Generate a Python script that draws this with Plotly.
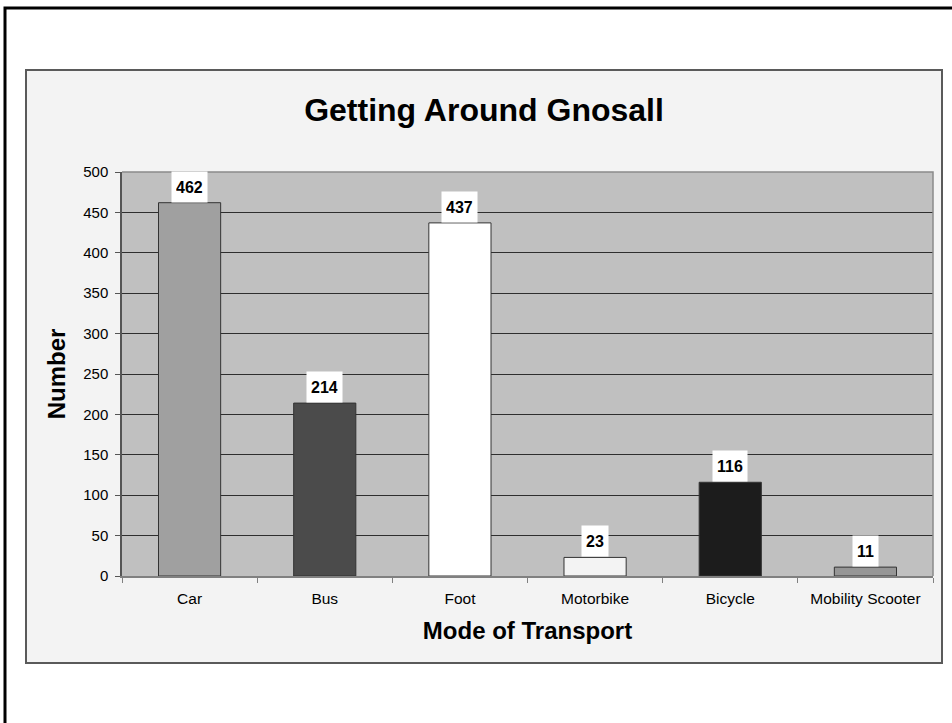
import plotly.graph_objects as go

categories = ["Car", "Bus", "Foot", "Motorbike", "Bicycle", "Mobility Scooter"]
values = [462, 214, 437, 23, 116, 11]
bar_colors = ["#a0a0a0", "#4b4b4b", "#ffffff", "#f3f3f3", "#1c1c1c", "#969696"]
y_ticks = [0, 50, 100, 150, 200, 250, 300, 350, 400, 450, 500]

W, H = 952, 723
ML, MR, MT, MB = 122, 19, 172, 147
PW = W - ML - MR
PH = H - MT - MB
FONT = "Liberation Sans, Arial, sans-serif"


def px_x(px):
    return (px - ML) / PW


def px_y(py):
    return (H - MB - py) / PH


fig = go.Figure()
fig.add_trace(go.Bar(
    x=categories, y=values,
    marker=dict(color=bar_colors, line=dict(color="#333333", width=1)),
    hoverinfo="x+y",
))

annotations = []
for c, v in zip(categories, values):
    annotations.append(dict(
        x=c, y=v, xref="x", yref="y", text=f"<b>{v}</b>", showarrow=False,
        yanchor="bottom", xanchor="center", bgcolor="#ffffff",
        borderpad=4, height=22,
        font=dict(family=FONT, size=16, color="#000000"),
    ))

shapes = [
    # outer frame
    dict(type="rect", xref="paper", yref="paper", layer="below",
         x0=px_x(5), x1=px_x(962), y0=px_y(735), y1=px_y(8),
         line=dict(color="#000000", width=3), fillcolor="#ffffff"),
    # chart area
    dict(type="rect", xref="paper", yref="paper", layer="below",
         x0=px_x(26), x1=px_x(942), y0=px_y(663), y1=px_y(70),
         line=dict(color="#5a5a5a", width=2), fillcolor="#f3f3f3"),
    # plot area background
    dict(type="rect", xref="paper", yref="paper", layer="below",
         x0=0, x1=1, y0=0, y1=1, line=dict(width=0), fillcolor="#c0c0c0"),
    # plot area top/right border
    dict(type="path", xref="paper", yref="paper", layer="above",
         path="M 0,1 L 1,1 L 1,0", line=dict(color="#8a8a8a", width=1.5)),
]

fig.update_layout(
    width=W, height=H, autosize=False,
    margin=dict(l=ML, r=MR, t=MT, b=MB, pad=0),
    paper_bgcolor="#ffffff", plot_bgcolor="#c0c0c0",
    showlegend=False,
    bargap=0.54,
    font=dict(family=FONT, color="#000000"),
    title=dict(text="Getting Around Gnosall", xref="container", yref="container",
               x=484 / W, y=1 - 110 / H, xanchor="center", yanchor="middle",
               font=dict(family=FONT, size=32, color="#000000", weight="bold")),
    xaxis=dict(
        showline=True, linecolor="#808080", linewidth=1.5,
        ticks="outside", tickson="boundaries", ticklen=5, tickcolor="#808080",
        tickfont=dict(family=FONT, size=15.5, color="#000000"),
        ticklabelstandoff=8,
        showgrid=False, automargin=False,
        title=dict(text="Mode of Transport", standoff=16,
                   font=dict(family=FONT, size=24, color="#000000", weight="bold")),
    ),
    yaxis=dict(
        range=[0, 500], tickvals=y_ticks,
        showline=True, linecolor="#555555", linewidth=1.5,
        ticks="outside", ticklen=5, tickcolor="#555555",
        tickfont=dict(family=FONT, size=15, color="#000000"),
        ticklabelstandoff=4,
        showgrid=True, gridcolor="#2e2e2e", gridwidth=1,
        zeroline=False, automargin=False,
        title=dict(text="Number", standoff=11,
                   font=dict(family=FONT, size=24, color="#000000", weight="bold")),
    ),
    annotations=annotations,
    shapes=shapes,
)

fig.write_html("out.html", config={"displayModeBar": False},
               post_script="document.body.style.margin='0';")
